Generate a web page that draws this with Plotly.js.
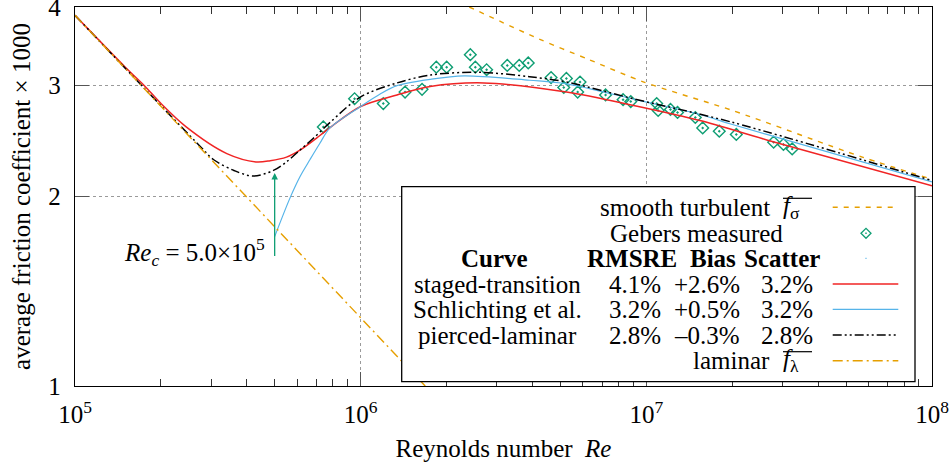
<!DOCTYPE html>
<html>
<head>
<meta charset="utf-8">
<script src="https://cdn.plot.ly/plotly-3.0.1.min.js"></script>
<style>
  html, body { margin: 0; padding: 0; background: #ffffff; }
  #chart { width: 949px; height: 471px; }
</style>
</head>
<body>
<div id="chart"></div>
<script>
// Average skin-friction coefficient (x1000) against Reynolds number, log-log.

// laminar flat-plate line
const reLaminar = [1.0e5, 5.0e5, 1.0e6, 2.0e6];
const fLaminar  = [3.88, 1.79, 1.28, 0.92];

// smooth turbulent line
const reTurb = [2.4e6, 4.2e6, 6.3e6, 9.8e6, 2.0e7, 5.7e7, 1.0e8];
const fTurb  = [4.00, 3.56, 3.30, 3.04, 2.74, 2.31, 2.13];

// staged-transition model
const reStaged = [1.0e5, 1.5e5, 1.75e5, 2.0e5, 2.45e5, 3.4e5, 4.3e5, 4.82e5, 5.5e5, 6.13e5, 7.2e5, 8.0e5,
                  1.0e6, 1.34e6, 1.75e6, 2.7e6, 5.25e6, 9.0e6, 1.54e7, 2.64e7, 1.0e8];
const fStaged  = [3.88, 3.21, 3.00, 2.81, 2.58, 2.34, 2.27, 2.28, 2.31, 2.37, 2.50, 2.595,
                  2.78, 2.90, 2.99, 3.03, 2.93, 2.79, 2.64, 2.46, 2.08];

// Schlichting et al. (starts at the critical Reynolds number)
const reSchl = [5.0e5, 5.66e5, 6.13e5, 6.65e5, 7.2e5, 7.81e5, 1.0e6, 1.17e6, 1.34e6, 1.75e6, 2.3e6,
                3.9e6, 5.26e6, 9.5e6, 1.54e7, 1.96e7, 2.64e7, 1.0e8];
const fSchl  = [1.727, 1.99, 2.15, 2.29, 2.43, 2.57, 2.78, 2.91, 3.00, 3.07, 3.11,
                3.06, 3.02, 2.84, 2.70, 2.61, 2.51, 2.11];

// pierced-laminar model
const rePierced = [1.0e5, 1.75e5, 2.75e5, 3.05e5, 3.6e5, 4.2e5, 4.95e5, 5.5e5, 6.13e5, 6.8e5, 7.8e5,
                   1.0e6, 1.34e6, 1.76e6, 2.6e6, 3.9e6, 5.26e6, 9.0e6, 1.96e7, 1.0e8];
const fPierced  = [3.88, 2.97, 2.40, 2.29, 2.20, 2.155, 2.20, 2.27, 2.37, 2.47, 2.62,
                   2.88, 3.03, 3.12, 3.15, 3.10, 3.04, 2.86, 2.63, 2.12];

// Gebers measurements
const reGebers = [7.40e5, 9.52e5, 1.20e6, 1.43e6, 1.64e6, 1.84e6, 2.00e6, 2.42e6, 2.52e6, 2.76e6,
                  3.26e6, 3.59e6, 3.86e6, 4.64e6, 5.25e6, 5.14e6, 5.86e6, 5.75e6, 7.20e6, 8.29e6,
                  8.82e6, 1.087e7, 1.10e7, 1.215e7, 1.286e7, 1.484e7, 1.575e7, 1.80e7, 2.065e7,
                  2.79e7, 3.02e7, 3.24e7];
const fGebers  = [2.58, 2.86, 2.81, 2.93, 2.96, 3.21, 3.21, 3.36, 3.21, 3.18,
                  3.23, 3.23, 3.26, 3.09, 3.08, 2.98, 3.04, 2.93, 2.90, 2.85,
                  2.83, 2.81, 2.74, 2.75, 2.72, 2.67, 2.57, 2.54, 2.51,
                  2.44, 2.42, 2.38];

// critical Reynolds number marker
const reCrit = 5.0e5;
const critArrowFrom = 1.60, critArrowTo = 2.18;

// fit statistics table
const tableCurves  = ['staged-transition', 'Schlichting et al.', 'pierced-laminar'];
const tableRMSRE   = ['4.1%', '3.2%', '2.8%'];
const tableBias    = ['+2.6%', '+0.5%', '\u20130.3%'];
const tableScatter = ['3.2%', '3.2%', '2.8%'];
const tableHeader  = ['Curve', 'RMSRE', 'Bias', 'Scatter'];

// axis ticks
const xTickVals = [1e5, 1e6, 1e7, 1e8];
const xTickText = ['10<sup>5</sup>', '10<sup>6</sup>', '10<sup>7</sup>', '10<sup>8</sup>'];
const yTickVals = [1, 2, 3, 4];
const yTickText = ['1', '2', '3', '4'];

// ---- colours and styles
const C_RED = '#f02424', C_BLUE = '#56b4e9', C_BLACK = '#000000',
      C_ORANGE = '#e69f00', C_GREEN = '#0f9e73';
const DASH_PIERCED = '9px,3px,2px,3px,2px,3px';
const DASH_LAMINAR = '10px,4px,2px,4px';
const DASH_TURB = '5px,6px';
const FONT = "'Liberation Serif', 'Times New Roman', serif";

// ---- page geometry (plot area in pixels)
const W = 949, H = 471, ML = 75, MR = 17, MT = 7, MB = 85;
const PW = W - ML - MR, PH = H - MT - MB;
const px = v => (v - ML) / PW;
const py = v => (H - MB - v) / PH;

const traces = [
  { x: reTurb, y: fTurb, mode: 'lines', line: { color: C_ORANGE, width: 1.4, dash: DASH_TURB, shape: 'spline', smoothing: 0.8 },
    name: 'smooth turbulent', hoverinfo: 'skip' },
  { x: reGebers, y: fGebers, mode: 'markers', name: 'Gebers measured',
    marker: { symbol: 'diamond-open-dot', size: 9, color: C_GREEN, line: { width: 1.4, color: C_GREEN } } },
  { x: reStaged, y: fStaged, mode: 'lines', line: { color: C_RED, width: 1.5, shape: 'spline', smoothing: 0.9 }, name: tableCurves[0] },
  { x: reSchl, y: fSchl, mode: 'lines', line: { color: C_BLUE, width: 1.2, shape: 'spline', smoothing: 0.9 }, name: tableCurves[1] },
  { x: rePierced, y: fPierced, mode: 'lines', line: { color: C_BLACK, width: 1.5, dash: DASH_PIERCED, shape: 'spline', smoothing: 0.9 }, name: tableCurves[2] },
  { x: reLaminar, y: fLaminar, mode: 'lines', line: { color: C_ORANGE, width: 1.4, dash: DASH_LAMINAR }, name: 'laminar' },
  // empty trace that carries the top tick axis
  { x: [], y: [], xaxis: 'x2', yaxis: 'y', mode: 'lines', showlegend: false, hoverinfo: 'skip' }
];

// ---- key box with the statistics table
const rowY = [207.3, 233.3, 258.3, 284, 309.3, 335, 360.7];
const keyX0 = 832.7, keyX1 = 898.3, keyMid = 866;
const shapes = [
  { type: 'rect', xref: 'paper', yref: 'paper', x0: px(401.7), x1: px(915), y0: py(381.7), y1: py(186.7),
    fillcolor: '#ffffff', line: { color: '#000000', width: 1.3 }, layer: 'above' },
  { type: 'line', xref: 'paper', yref: 'paper', x0: px(keyX0), x1: px(keyX1), y0: py(rowY[0]), y1: py(rowY[0]),
    line: { color: C_ORANGE, width: 1.4, dash: DASH_TURB }, layer: 'above' },
  { type: 'path', xref: 'paper', yref: 'paper', layer: 'above', line: { color: C_GREEN, width: 1.3 },
    path: `M ${px(keyMid - 5)} ${py(rowY[1])} L ${px(keyMid)} ${py(rowY[1] - 5)} L ${px(keyMid + 5)} ${py(rowY[1])} L ${px(keyMid)} ${py(rowY[1] + 5)} Z` },
  { type: 'line', xref: 'paper', yref: 'paper', x0: px(keyMid - 0.7), x1: px(keyMid + 0.7), y0: py(rowY[1]), y1: py(rowY[1]),
    line: { color: C_GREEN, width: 1.4 }, layer: 'above' },
  { type: 'line', xref: 'paper', yref: 'paper', x0: px(keyMid - 0.7), x1: px(keyMid + 0.7), y0: py(rowY[2]), y1: py(rowY[2]),
    line: { color: C_BLUE, width: 1 }, layer: 'above' },
  { type: 'line', xref: 'paper', yref: 'paper', x0: px(keyX0), x1: px(keyX1), y0: py(rowY[3]), y1: py(rowY[3]),
    line: { color: C_RED, width: 1.5 }, layer: 'above' },
  { type: 'line', xref: 'paper', yref: 'paper', x0: px(keyX0), x1: px(keyX1), y0: py(rowY[4]), y1: py(rowY[4]),
    line: { color: C_BLUE, width: 1.2 }, layer: 'above' },
  { type: 'line', xref: 'paper', yref: 'paper', x0: px(keyX0), x1: px(keyX1), y0: py(rowY[5]), y1: py(rowY[5]),
    line: { color: C_BLACK, width: 1.5, dash: DASH_PIERCED }, layer: 'above' },
  { type: 'line', xref: 'paper', yref: 'paper', x0: px(keyX0), x1: px(keyX1), y0: py(rowY[6]), y1: py(rowY[6]),
    line: { color: C_ORANGE, width: 1.4, dash: DASH_LAMINAR }, layer: 'above' },
  // overbars on the mean-coefficient symbols
  { type: 'line', xref: 'paper', yref: 'paper', x0: px(783), x1: px(812), y0: py(198.3), y1: py(198.3),
    line: { color: '#000000', width: 1.2 }, layer: 'above' },
  { type: 'line', xref: 'paper', yref: 'paper', x0: px(783), x1: px(812), y0: py(351.7), y1: py(351.7),
    line: { color: '#000000', width: 1.2 }, layer: 'above' }
];

const tf = (size, extra) => Object.assign({ family: FONT, size: size, color: '#000000' }, extra || {});
const ann = (x, y, text, xanchor, opts) => Object.assign({
  xref: 'paper', yref: 'paper', x: px(x), y: py(y), text: text, xanchor: xanchor, yanchor: 'middle',
  showarrow: false, font: tf(25)
}, opts || {});

const annotations = [
  ann(772, rowY[0], 'smooth turbulent', 'right'),
  ann(781, rowY[0], '<i>f</i><sub>\u03c3</sub>', 'left'),
  ann(785, rowY[1], 'Gebers measured', 'right'),
  ann(494, rowY[2], '<b>' + tableHeader[0] + '</b>', 'center'),
  ann(631.5, rowY[2], '<b>' + tableHeader[1] + '</b>', 'center'),
  ann(712.5, rowY[2], '<b>' + tableHeader[2] + '</b>', 'center'),
  ann(781.5, rowY[2], '<b>' + tableHeader[3] + '</b>', 'center'),
  ann(772, rowY[6], 'laminar', 'right'),
  ann(781, rowY[6], '<i>f</i><sub>\u03bb</sub>', 'left'),
  ann(267, 252, '<i>Re</i><sub><i>c</i></sub> = 5.0\u00d710<sup>5</sup>', 'right'),
  { x: Math.log10(reCrit), y: Math.log10(critArrowTo), ax: Math.log10(reCrit), ay: Math.log10(critArrowFrom),
    xref: 'x', yref: 'y', axref: 'x', ayref: 'y', text: '', showarrow: true,
    arrowhead: 2, arrowsize: 1, arrowwidth: 1.3, arrowcolor: C_GREEN }
];
tableCurves.forEach((name, i) => {
  const y = rowY[3 + i];
  annotations.push(ann(497, y, name, 'center'));
  annotations.push(ann(663, y, tableRMSRE[i], 'right'));
  annotations.push(ann(742, y, tableBias[i], 'right'));
  annotations.push(ann(815, y, tableScatter[i], 'right'));
});

const axisCommon = {
  type: 'log', showline: true, linecolor: '#000000', linewidth: 1.3, mirror: 'ticks',
  ticks: 'inside', ticklen: 14, tickcolor: '#555555', tickwidth: 1.3,
  showgrid: true, gridcolor: '#9a9a9a', griddash: 'dot', gridwidth: 1, zeroline: false,
  tickfont: tf(25), ticklabeloverflow: 'allow'
};
const xMinor = { ticks: 'inside', ticklen: 7, tickcolor: '#333333', tickwidth: 1, dtick: 'D1', showgrid: false };

const layout = {
  width: W, height: H,
  margin: { l: ML, r: MR, t: MT, b: MB },
  paper_bgcolor: '#ffffff', plot_bgcolor: '#ffffff',
  showlegend: false,
  xaxis: Object.assign({}, axisCommon, {
    range: [5, 8], tickmode: 'array', tickvals: xTickVals, ticktext: xTickText, ticklabelstandoff: 6,
    minor: xMinor,
    title: { text: 'Reynolds number  <i>Re</i>', font: tf(25), standoff: 12 }
  }),
  // top edge: same decades with minor ticks, no labels
  xaxis2: {
    type: 'log', overlaying: 'x', side: 'top', anchor: 'y', range: [5, 8],
    tickmode: 'array', tickvals: xTickVals, showticklabels: false,
    ticks: 'inside', ticklen: 14, tickcolor: '#555555', tickwidth: 1.3,
    minor: xMinor, showgrid: false, showline: false, zeroline: false
  },
  yaxis: Object.assign({}, axisCommon, {
    range: [-0.00002, Math.log10(4) + 0.00002], tickmode: 'array', tickvals: yTickVals, ticktext: yTickText,
    ticklabelstandoff: 8,
    title: { text: 'average friction coefficient \u00d7 1000', font: tf(25), standoff: 10 }
  }),
  shapes: shapes,
  annotations: annotations
};

Plotly.newPlot('chart', traces, layout, { staticPlot: true, displayModeBar: false });
</script>
</body>
</html>
